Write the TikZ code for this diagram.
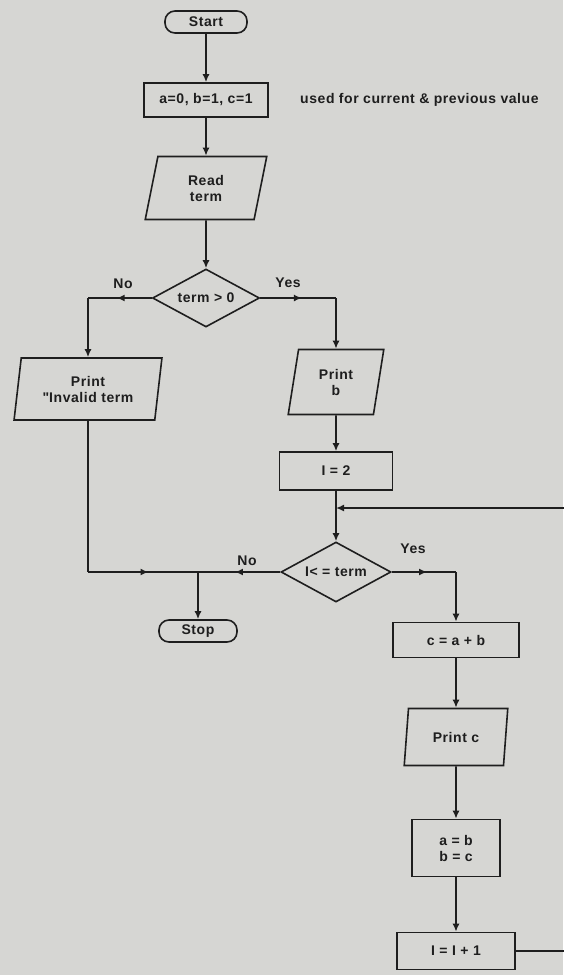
\documentclass[tikz,border=0pt]{standalone}
\usepackage{fontspec}
\setmainfont[LetterSpace=4]{Liberation Sans}
\usetikzlibrary{shapes.geometric,arrows.meta,decorations.markings,calc}
\definecolor{paper}{RGB}{214,214,211}
\definecolor{ink}{RGB}{30,30,30}
\tikzset{
  base/.style={draw=ink, line width=1.6pt, fill=paper, text=ink, inner sep=1pt,
    font=\fontsize{14}{16}\selectfont\bfseries, align=center},
  term/.style={base, rounded corners=10pt, minimum height=22pt},
  proc/.style={base, rectangle, minimum height=36pt},
  io/.style={base, trapezium, trapezium left angle=80, trapezium right angle=100,
    trapezium stretches=true},
  decis/.style={base, diamond, aspect=2, inner sep=0pt},
  conn/.style={draw=ink, line width=1.6pt, -{Latex[length=8pt,width=7pt]}},
  line/.style={draw=ink, line width=1.6pt},
  midarr/.style={draw=ink, line width=1.6pt, postaction={decorate},
    decoration={markings, mark=at position 0.55 with {\arrow{Latex[length=8pt,width=7pt]}}}},
  lbl/.style={text=ink, font=\fontsize{14}{16}\selectfont\bfseries, inner sep=0pt}
}
\begin{document}
\begin{tikzpicture}[x=1pt,y=-1pt]
\useasboundingbox[fill=paper] (0,0) rectangle (563,975);

\node[term, minimum width=82pt] (start) at (206,22) {Start};
\node[proc, minimum width=124pt, minimum height=34pt] (init) at (206,100) {a=0, b=1, c=1};
\node[lbl, anchor=west] (note) at (300,100) {used for current \& previous value};
\node[io, minimum width=122pt, minimum height=63pt] (read) at (206,188) {Read\\term};
\node[decis, minimum width=107pt, minimum height=58pt] (d1) at (206,298) {term > 0};
\node[lbl] (no1) at (123,284) {No};
\node[lbl] (yes1) at (288,283) {Yes};
\node[io, minimum width=148pt, minimum height=62pt] (pinv) at (88,389) {Print\\\textquotedbl Invalid term};
\node[io, minimum width=96pt, minimum height=65pt] (pb) at (336,382) {Print\\b};
\node[proc, minimum width=113pt, minimum height=38pt] (i2) at (336,471) {I = 2};
\node[decis, minimum width=110pt, minimum height=60pt] (d2) at (336,572) {I< = term};
\node[lbl] (no2) at (247,561) {No};
\node[lbl] (yes2) at (413,549) {Yes};
\node[term, minimum width=78pt] (stop) at (198,631) {Stop};
\node[proc, minimum width=126pt, minimum height=35pt] (cab) at (456,640) {c = a + b};
\node[io, minimum width=104pt, minimum height=57pt] (pc) at (456,737) {Print  c};
\node[proc, minimum width=88pt, minimum height=57pt] (ab) at (456,848) {a = b\\b = c};
\node[proc, minimum width=118pt, minimum height=37pt] (inc) at (456,951) {I = I + 1};

\coordinate (c1) at (88,298);
\coordinate (c2) at (d1.east -| pb.north);
\coordinate (merge) at (198,572);
\coordinate (leftdown) at (88,572);
\coordinate (join) at (336,508);
\coordinate (c3) at (d2.east -| cab.north);
\coordinate (far1) at (575,951);
\coordinate (far2) at (575,508);

\draw[conn] (start) -- (init);
\draw[conn] (init) -- (read);
\draw[conn] (read) -- (d1);
\draw[midarr] (d1.west) -- (c1);
\draw[conn] (c1) -- (pinv.north -| c1);
\draw[midarr] (d1.east) -- (c2);
\draw[conn] (c2) -- (pb.north);
\draw[conn] (pb) -- (i2);
\draw[conn] (i2) -- (d2);
\draw[midarr] (d2.west) -- (merge);
\draw[line] (pinv.south -| c1) -- (leftdown);
\draw[midarr] (leftdown) -- (merge);
\draw[conn] (merge) -- (stop);
\draw[midarr] (d2.east) -- (c3);
\draw[conn] (c3) -- (cab.north);
\draw[conn] (cab) -- (pc);
\draw[conn] (pc) -- (ab);
\draw[conn] (ab) -- (inc);
\draw[line] (inc.east) -- (far1) -- (far2);
\draw[conn] (far2) -- (join);
\end{tikzpicture}
\end{document}
